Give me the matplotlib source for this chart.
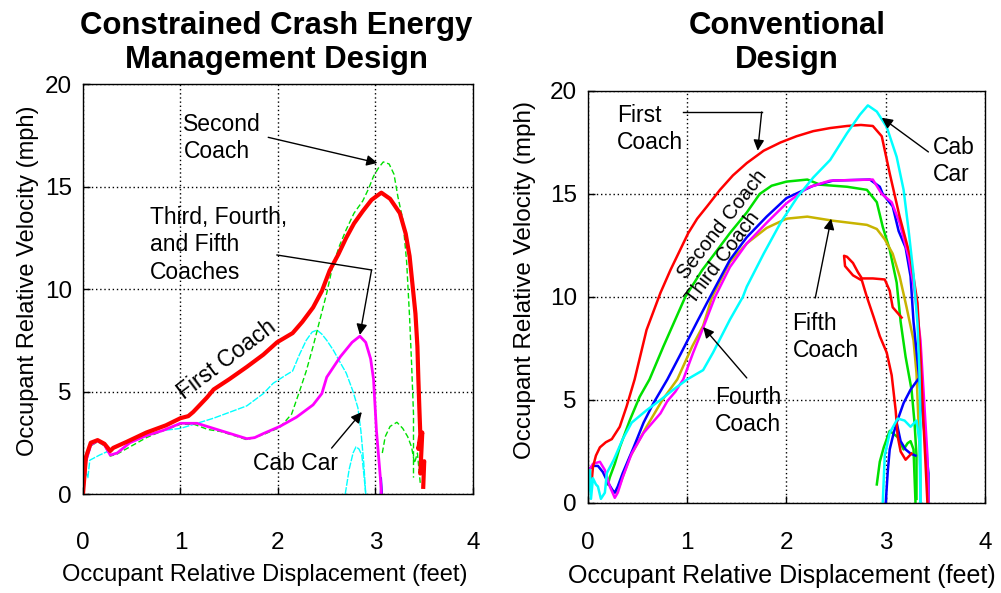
import numpy as np
import matplotlib
matplotlib.use("Agg")
import matplotlib.pyplot as plt

plt.rcParams['font.family'] = ['Liberation Sans', 'DejaVu Sans']

# ---- left panel: constrained crash energy management design ----
l_first_x = [0.0, 0.03, 0.08, 0.15, 0.22, 0.28, 0.31, 0.45, 0.65, 0.85, 1.0, 1.08, 1.13, 1.27, 1.34, 1.5, 1.68, 1.85, 1.99, 2.15, 2.25, 2.36, 2.45, 2.53, 2.62, 2.70, 2.78, 2.87, 2.96, 3.06, 3.15, 3.25, 3.31, 3.35, 3.38, 3.41, 3.43, 3.44, 3.45, 3.46, 3.44, 3.48, 3.46, 3.50, 3.49]
l_first_y = [0.0, 1.8, 2.5, 2.63, 2.45, 2.1, 2.25, 2.55, 3.0, 3.35, 3.7, 3.8, 4.0, 4.7, 5.1, 5.6, 6.2, 6.8, 7.4, 7.85, 8.4, 9.1, 9.9, 10.9, 11.7, 12.5, 13.2, 13.8, 14.35, 14.7, 14.4, 13.7, 12.7, 11.6, 10.2, 8.8, 7.2, 5.6, 4.2, 2.9, 2.2, 3.0, 1.0, 1.6, 0.35]

l_second_x = [0.0, 0.03, 0.08, 0.15, 0.22, 0.28, 0.35, 0.5, 0.65, 0.8, 1.0, 1.14, 1.28, 1.41, 1.55, 1.68, 1.85, 2.02, 2.14, 2.22, 2.29, 2.36, 2.43, 2.50, 2.56, 2.63, 2.70, 2.78, 2.87, 2.93, 2.98, 3.03, 3.08, 3.14, 3.19, 3.23, 3.28, 3.32, 3.35, 3.37, 3.39, 3.39]
l_second_y = [0.0, 1.5, 2.35, 2.55, 2.35, 1.85, 1.95, 2.35, 2.75, 3.05, 3.4, 3.4, 3.15, 3.05, 2.85, 2.65, 2.9, 3.25, 3.9, 5.0, 6.0, 7.2, 8.5, 9.8, 11.1, 12.1, 12.9, 13.7, 14.3, 14.9, 15.5, 15.9, 16.2, 16.1, 15.6, 14.5, 13.4, 11.3, 8.6, 6.4, 3.9, 0.8]
l_second_b_x = [3.07, 3.10, 3.15, 3.22, 3.28, 3.33, 3.37, 3.40, 3.43, 3.46]
l_second_b_y = [2.0, 2.8, 3.3, 3.5, 3.2, 2.8, 2.3, 1.5, 2.0, 0.5]

l_third_x = [0.0, 0.03, 0.08, 0.15, 0.22, 0.28, 0.35, 0.48, 0.65, 0.82, 1.0, 1.17, 1.34, 1.51, 1.68, 1.76, 1.85, 2.02, 2.19, 2.36, 2.45, 2.50, 2.64, 2.76, 2.84, 2.90, 2.95, 2.98, 3.01, 3.05, 3.06]
l_third_y = [0.0, 1.6, 2.4, 2.6, 2.4, 1.9, 2.0, 2.5, 2.85, 3.1, 3.45, 3.45, 3.2, 2.95, 2.7, 2.75, 2.95, 3.3, 3.75, 4.35, 4.9, 5.7, 6.7, 7.4, 7.7, 7.4, 6.6, 5.6, 3.1, 0.8, 0.0]

l_cab_x = [0.0, 0.02, 0.05, 0.07, 0.17, 0.31, 0.48, 0.65, 0.82, 1.0, 1.17, 1.34, 1.51, 1.68, 1.85, 1.95, 2.08, 2.15, 2.22, 2.29, 2.35, 2.40, 2.45, 2.50, 2.57, 2.64, 2.70, 2.77, 2.82, 2.85, 2.88, 2.90]
l_cab_y = [0.0, 1.2, 0.8, 1.65, 1.9, 2.2, 2.6, 2.85, 3.1, 3.2, 3.45, 3.7, 4.0, 4.3, 4.9, 5.4, 5.8, 6.0, 6.8, 7.5, 7.9, 8.0, 7.8, 7.5, 7.0, 6.4, 5.9, 5.0, 4.2, 3.1, 1.5, 0.0]
l_cab_b_x = [2.69, 2.73, 2.77, 2.80, 2.83, 2.86, 2.88, 2.90]
l_cab_b_y = [0.0, 1.2, 2.0, 2.3, 2.2, 1.9, 1.0, 0.0]

l_blue_x = [3.05, 3.06, 3.07]
l_blue_y = [0.0, 0.8, 0.0]

# ---- right panel: conventional design ----
r_first_x = [0.04, 0.05, 0.08, 0.12, 0.18, 0.24, 0.32, 0.39, 0.47, 0.53, 0.59, 0.66, 0.73, 0.83, 0.93, 1.01, 1.10, 1.20, 1.33, 1.46, 1.60, 1.77, 1.94, 2.10, 2.27, 2.44, 2.61, 2.75, 2.87, 2.96, 3.04, 3.14, 3.25, 3.32, 3.35, 3.38, 3.40, 3.42]
r_first_y = [1.2, 1.75, 2.3, 2.7, 2.95, 3.1, 3.7, 4.7, 6.0, 7.2, 8.4, 9.3, 10.2, 11.3, 12.3, 13.1, 13.8, 14.4, 15.2, 15.9, 16.5, 17.1, 17.5, 17.8, 18.05, 18.2, 18.3, 18.35, 18.3, 17.8, 16.0, 13.9, 11.9, 9.7, 7.1, 3.9, 2.0, 0.0]
r_first_b_x = [3.26, 3.20, 3.15, 3.12, 3.10, 3.06, 3.01, 2.94, 2.88, 2.81, 2.76, 2.67, 2.59, 2.58, 2.61, 2.67, 2.72, 2.76, 2.87, 2.99, 3.04, 3.07, 3.16]
r_first_b_y = [2.4, 2.1, 2.5, 3.25, 4.5, 6.2, 7.3, 8.1, 9.0, 10.0, 10.8, 11.05, 11.5, 12.0, 11.95, 11.65, 11.2, 10.9, 10.9, 10.85, 10.3, 9.5, 9.0]

r_second_x = [0.20, 0.22, 0.27, 0.32, 0.42, 0.52, 0.62, 0.76, 0.98, 1.15, 1.26, 1.43, 1.60, 1.73, 1.85, 2.00, 2.21, 2.34, 2.61, 2.81, 2.91, 2.97, 3.04, 3.11, 3.15, 3.20, 3.26, 3.29, 3.31, 3.31]
r_second_y = [0.9, 1.25, 1.9, 2.7, 4.0, 5.15, 6.0, 7.6, 10.0, 11.3, 12.0, 13.1, 14.1, 15.0, 15.4, 15.6, 15.7, 15.45, 15.35, 15.2, 14.6, 13.4, 12.3, 10.7, 8.8, 7.1, 5.5, 3.9, 2.3, 0.2]
r_second_b_x = [2.91, 2.94, 2.98, 3.04, 3.12, 3.18, 3.22, 3.25, 3.28, 3.30]
r_second_b_y = [0.9, 2.0, 2.7, 3.5, 3.2, 2.6, 2.9, 3.0, 2.6, 0.0]

r_third_x = [0.0, 0.05, 0.10, 0.15, 0.20, 0.25, 0.27, 0.30, 0.35, 0.46, 0.56, 0.66, 0.80, 0.93, 1.10, 1.23, 1.43, 1.60, 1.80, 2.00, 2.27, 2.47, 2.84, 2.94, 2.97, 3.07, 3.13, 3.20, 3.25, 3.28, 3.33, 3.38, 3.43, 3.43]
r_third_y = [1.6, 1.8, 1.8, 1.5, 1.0, 0.6, 0.5, 0.8, 1.45, 2.7, 3.9, 4.85, 6.0, 7.2, 8.8, 10.0, 11.8, 12.9, 13.9, 14.8, 15.4, 15.65, 15.7, 15.35, 15.0, 14.4, 13.2, 12.4, 11.0, 8.8, 6.4, 3.9, 1.45, 0.0]
r_third_b_x = [3.00, 3.02, 3.04, 3.08, 3.11, 3.18, 3.25, 3.31, 3.36]
r_third_b_y = [0.0, 1.5, 2.6, 3.4, 3.9, 4.85, 5.5, 5.9, 6.2]
r_third_c_x = [3.11, 3.15, 3.20, 3.25, 3.30]
r_third_c_y = [3.9, 3.0, 2.6, 2.4, 2.3]

r_fourth_x = [0.0, 0.05, 0.12, 0.17, 0.22, 0.27, 0.30, 0.35, 0.44, 0.56, 0.73, 0.80, 0.88, 0.96, 1.06, 1.16, 1.28, 1.43, 1.60, 1.80, 2.00, 2.21, 2.44, 2.87, 2.96, 3.06, 3.14, 3.23, 3.29, 3.35, 3.38, 3.42, 3.43]
r_fourth_y = [1.5, 1.9, 2.0, 1.6, 0.8, 0.25, 0.5, 1.25, 2.4, 3.4, 4.35, 4.95, 5.4, 6.0, 7.3, 8.5, 10.0, 11.45, 12.6, 13.6, 14.55, 15.3, 15.65, 15.7, 15.0, 14.6, 13.6, 11.95, 10.3, 7.9, 5.5, 2.3, 0.0]

r_fifth_x = [0.25, 0.29, 0.33, 0.42, 0.59, 0.75, 0.90, 1.05, 1.16, 1.25, 1.43, 1.60, 1.80, 2.00, 2.21, 2.47, 2.81, 2.91, 2.99, 3.07, 3.14, 3.21, 3.28, 3.31, 3.33, 3.35, 3.35]
r_fifth_y = [0.6, 0.5, 1.0, 2.2, 3.7, 5.0, 6.0, 7.6, 8.6, 10.0, 11.7, 12.6, 13.35, 13.8, 13.9, 13.7, 13.5, 13.3, 12.8, 12.1, 11.0, 9.5, 7.9, 6.3, 3.9, 1.45, 0.0]

r_cab_x = [0.0, 0.02, 0.03, 0.05, 0.08, 0.10, 0.13, 0.17, 0.19, 0.26, 0.35, 0.44, 0.59, 0.73, 0.86, 1.00, 1.16, 1.26, 1.43, 1.56, 1.60, 1.77, 1.94, 2.11, 2.27, 2.44, 2.61, 2.74, 2.82, 2.91, 3.01, 3.11, 3.18, 3.23, 3.28, 3.32, 3.34, 3.35, 3.35]
r_cab_y = [0.5, 1.6, 0.2, 1.2, 0.9, 0.8, 0.2, 0.5, 1.45, 2.1, 3.1, 3.9, 4.5, 5.0, 5.5, 6.0, 6.45, 7.3, 8.9, 10.0, 10.5, 12.1, 13.6, 14.85, 15.8, 16.65, 17.95, 18.85, 19.3, 19.0, 18.25, 16.8, 15.2, 13.25, 11.1, 8.7, 6.3, 3.9, 0.0]
r_cab_b_x = [2.97, 2.99, 3.04, 3.12, 3.19, 3.25, 3.31, 3.34, 3.35]
r_cab_b_y = [0.0, 2.3, 3.4, 4.1, 4.0, 3.7, 4.0, 3.0, 0.0]

RED = '#ff0000'
GREEN = '#00e000'
MAGENTA = '#ff00ff'
CYAN = '#00ffff'
BLUE = '#0000ff'
OLIVE = '#c8b400'


def style_axes(ax, xpad):
	ax.set_xlim(0, 4)
	ax.set_ylim(0, 20)
	ax.set_xticks([0, 1, 2, 3, 4])
	ax.set_yticks([0, 5, 10, 15, 20])
	ax.grid(True, color='black', linestyle=(0, (1, 2)), linewidth=1)
	ax.tick_params(direction='in', length=5, width=1, labelsize=17.5, pad=8)
	ax.tick_params(axis='x', pad=xpad)
	for s in ax.spines.values():
		s.set_linewidth(1)


def arrow(ax, start, end):
	ax.annotate('', xy=end, xytext=start,
		arrowprops=dict(arrowstyle='-|>', color='black', lw=1, mutation_scale=16, shrinkA=0, shrinkB=0))


fig = plt.figure(figsize=(10.01, 5.93), dpi=100)
ax1 = fig.add_axes([0.0829, 0.1669, 0.3896, 0.6914])
ax2 = fig.add_axes([0.5874, 0.1518, 0.3966, 0.6948])

# left panel curves
ax1.plot(l_cab_x, l_cab_y, color=CYAN, lw=1, dashes=(5, 1))
ax1.plot(l_cab_b_x, l_cab_b_y, color=CYAN, lw=1, dashes=(5, 1))
ax1.plot(l_second_x, l_second_y, color=GREEN, lw=1, dashes=(4, 2))
ax1.plot(l_second_b_x, l_second_b_y, color=GREEN, lw=1, dashes=(4, 2))
ax1.plot(l_blue_x, l_blue_y, color=BLUE, lw=1)
ax1.plot(l_third_x, l_third_y, color=MAGENTA, lw=2)
ax1.plot(l_first_x, l_first_y, color=RED, lw=3)
style_axes(ax1, 27)

ax1.text(1.03, 17.37, 'Second\nCoach', fontsize=16.5, ha='left', va='center', linespacing=1.25)
arrow(ax1, (1.90, 17.4), (3.02, 16.15))
ax1.text(0.69, 12.15, 'Third, Fourth,\nand Fifth\nCoaches', fontsize=16.5, ha='left', va='center', linespacing=1.25)
ax1.plot([1.99, 2.96], [11.66, 10.93], color='black', lw=1)
arrow(ax1, (2.96, 10.93), (2.84, 7.76))
ax1.text(1.48, 6.54, 'First Coach', fontsize=16.5, rotation=37, ha='center', va='center', rotation_mode='anchor')
ax1.text(1.74, 1.5, 'Cab Car', fontsize=16.5, ha='left', va='center')
arrow(ax1, (2.55, 2.24), (2.86, 4.0))

ax1.set_xlabel('Occupant Relative Displacement (feet)', fontsize=17)
ax1.set_ylabel('Occupant Relative Velocity (mph)', fontsize=17)
ax1.xaxis.set_label_coords(0.467, -0.198)
ax1.xaxis.label.set_va('center')
ax1.yaxis.set_label_coords(-0.142, 0.52)
ax1.yaxis.label.set_va('center')

# right panel curves
ax2.plot(r_second_x, r_second_y, color=GREEN, lw=1.8)
ax2.plot(r_second_b_x, r_second_b_y, color=GREEN, lw=1.8)
ax2.plot(r_fifth_x, r_fifth_y, color=OLIVE, lw=1.8)
ax2.plot(r_third_x, r_third_y, color=BLUE, lw=1.8)
ax2.plot(r_third_b_x, r_third_b_y, color=BLUE, lw=1.8)
ax2.plot(r_third_c_x, r_third_c_y, color=BLUE, lw=1.8)
ax2.plot(r_fourth_x, r_fourth_y, color=MAGENTA, lw=1.8)
ax2.plot(r_first_x, r_first_y, color=RED, lw=1.8)
ax2.plot(r_first_b_x, r_first_b_y, color=RED, lw=1.8)
ax2.plot(r_cab_x, r_cab_y, color=CYAN, lw=1.8)
ax2.plot(r_cab_b_x, r_cab_b_y, color=CYAN, lw=1.8)
style_axes(ax2, 21)

ax2.text(0.29, 18.15, 'First\nCoach', fontsize=16.5, ha='left', va='center', linespacing=1.25)
ax2.plot([0.96, 1.75], [18.98, 18.98], color='black', lw=1)
arrow(ax2, (1.75, 18.98), (1.71, 17.1))
ax2.text(3.48, 16.6, 'Cab\nCar', fontsize=16.5, ha='left', va='center', linespacing=1.25)
arrow(ax2, (3.43, 17.04), (2.96, 18.7))
ax2.text(1.35, 13.5, 'Second Coach', fontsize=14.5, rotation=52, ha='center', va='center', rotation_mode='anchor')
ax2.text(1.36, 11.9, 'Third Coach', fontsize=14.5, rotation=53, ha='center', va='center', rotation_mode='anchor')
ax2.text(2.06, 8.06, 'Fifth\nCoach', fontsize=16.5, ha='left', va='center', linespacing=1.25)
arrow(ax2, (2.29, 9.95), (2.45, 13.8))
ax2.text(1.28, 4.47, 'Fourth\nCoach', fontsize=16.5, ha='left', va='center', linespacing=1.25)
arrow(ax2, (1.60, 6.07), (1.16, 8.54))

ax2.set_xlabel('Occupant Relative Displacement (feet)', fontsize=18)
ax2.set_ylabel('Occupant Relative Velocity (mph)', fontsize=17.5)
ax2.xaxis.set_label_coords(0.489, -0.177)
ax2.xaxis.label.set_va('center')
ax2.yaxis.set_label_coords(-0.159, 0.54)
ax2.yaxis.label.set_va('center')

# titles
fig.text(276.5 / 1001, 1 - 43 / 593, 'Constrained Crash Energy\nManagement Design', fontsize=22.4,
	fontweight='bold', ha='center', va='center', linespacing=1.2)
fig.text(787 / 1001, 1 - 43 / 593, 'Conventional\nDesign', fontsize=22.4,
	fontweight='bold', ha='center', va='center', linespacing=1.2)

fig.savefig('out.png', dpi=100)
